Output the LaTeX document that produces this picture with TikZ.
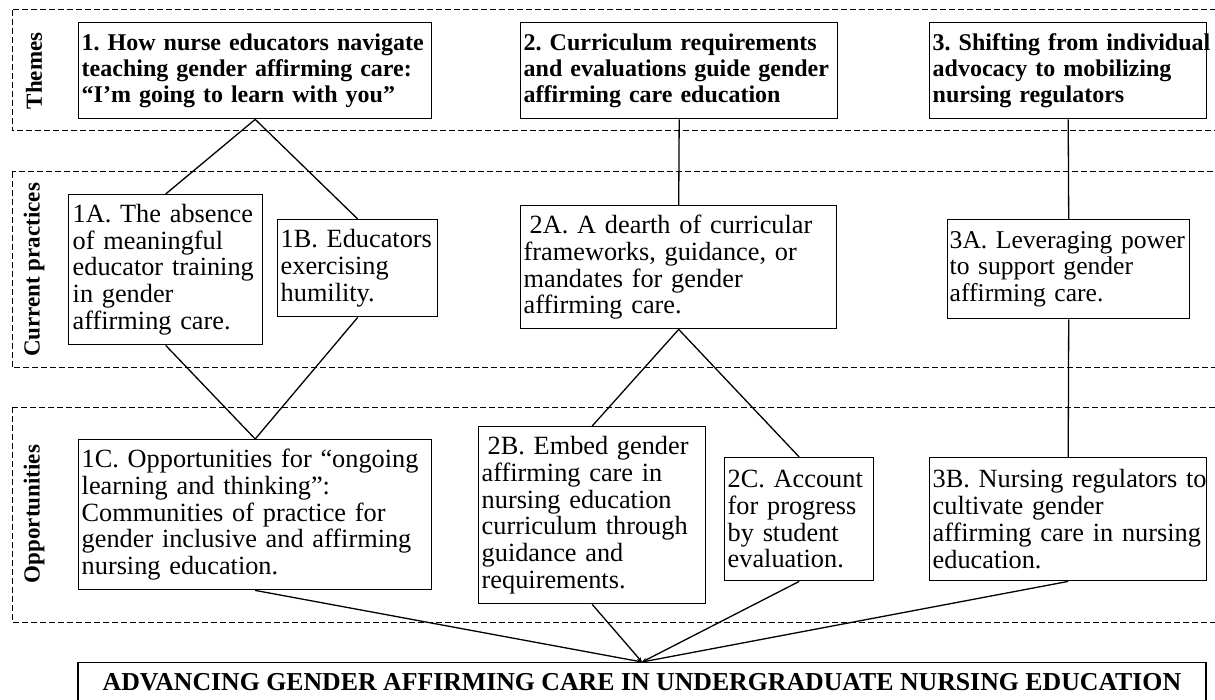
\documentclass[tikz,border=0pt]{standalone}
\usepackage{fontspec}
\setmainfont{Liberation Serif}
\usetikzlibrary{arrows.meta}
\newcommand{\keepline}[1]{\mbox{#1}}
\begin{document}
\frenchspacing
\begin{tikzpicture}[x=1pt,y=-1pt,
  band/.style={draw, line width=1pt, dash pattern=on 6pt off 3pt},
  bandlabel/.style={rotate=90, font=\bfseries\fontsize{23}{24}\selectfont, inner sep=0pt},
  box/.style={draw, line width=1.4pt, anchor=north west, align=left, inner sep=3pt,
              font=\fontsize{26.3}{26.8}\selectfont},
  theme/.style={box, font=\bfseries\fontsize{24}{26}\selectfont},
  link/.style={line width=1.3pt},
  conv/.style={line width=1.3pt, -{Stealth[length=5pt,width=4pt]}},
]
\useasboundingbox (0,0) rectangle (1215,700);

% bands
\draw[band] (12,10) rectangle (1222,131);
\draw[band] (12,172) rectangle (1222,368);
\draw[band] (12,407) rectangle (1222,622);
\node[bandlabel] (lblT) at (34,71) {Themes};
\node[bandlabel] (lblC) at (34,270) {Current practices};
\node[bandlabel] (lblO) at (34,514) {Opportunities};

% themes
\node[theme, text width=347pt, minimum height=96pt] (T1) at (78,22)
  {\keepline{1. How nurse educators navigate}\\\keepline{teaching gender affirming care:}\\\keepline{“I’m going to learn with you”}};
\node[theme, text width=311pt, minimum height=96pt] (T2) at (520,22)
  {\keepline{2. Curriculum requirements}\\\keepline{and evaluations guide gender}\\\keepline{affirming care education}};
\node[theme, text width=271pt, minimum height=96pt] (T3) at (929,22)
  {\keepline{3. Shifting from individual}\\\keepline{advocacy to mobilizing}\\\keepline{nursing regulators}};

% current practices
\node[box, text width=188pt, minimum height=150pt] (A1) at (68,194)
  {\keepline{\hspace*{1pt}1A. The absence}\\\keepline{\hspace*{1pt}of meaningful}\\\keepline{\hspace*{1pt}educator training}\\\keepline{\hspace*{1pt}in gender}\\\keepline{\hspace*{1pt}affirming care.}};
\node[box, text width=154pt, minimum height=97pt] (B1) at (277,219)
  {\keepline{1B. Educators}\\\keepline{exercising}\\\keepline{humility.}};
\node[box, text width=310pt, minimum height=123pt] (A2) at (520,205)
  {\keepline{\hspace*{6pt}2A. A dearth of curricular}\\\keepline{frameworks, guidance, or}\\\keepline{mandates for gender}\\\keepline{affirming care.}};
\node[box, text width=238pt, minimum height=99pt, inner sep=2pt,
      font=\fontsize{25.6}{26.8}\selectfont] (A3) at (947,219)
  {\keepline{3A. Leveraging power}\\\keepline{to support gender}\\\keepline{affirming care.}};

% opportunities
\node[box, text width=347pt, minimum height=150pt] (C1) at (78,439)
  {\keepline{1C. Opportunities for “ongoing}\\\keepline{learning and thinking”:}\\\keepline{Communities of practice for}\\\keepline{gender inclusive and affirming}\\\keepline{nursing education.}};
\node[box, text width=221pt, minimum height=177pt] (B2) at (478,426)
  {\keepline{\hspace*{6pt}2B. Embed gender}\\\keepline{affirming care in}\\\keepline{nursing education}\\\keepline{curriculum through}\\\keepline{guidance and}\\\keepline{requirements.}};
\node[box, text width=143pt, minimum height=123pt] (C2) at (724,457)
  {\keepline{2C. Account}\\\keepline{for progress}\\\keepline{by student}\\\keepline{evaluation.}};
\node[box, text width=271pt, minimum height=123pt] (B3) at (929,457)
  {\keepline{3B. Nursing regulators to}\\\keepline{cultivate gender}\\\keepline{affirming care in nursing}\\\keepline{education.}};

% outcome
\node[draw, line width=1.4pt, anchor=north, minimum width=1128pt, minimum height=40pt,
      inner sep=0pt, font=\bfseries\fontsize{25.8}{27}\selectfont] (Out) at (642,662)
  {\raisebox{2pt}{ADVANCING GENDER AFFIRMING CARE IN UNDERGRADUATE NURSING EDUCATION}};

% connectors
\draw[link] (T1.south) -- (A1.north);
\draw[link] (T1.south) -- (B1.north);
\draw[link] (A1.south) -- (C1.north);
\draw[link] (B1.south) -- (C1.north);
\draw[link] (T2.south) -- (A2.north);
\draw[link] (A2.south) -- (B2.north);
\draw[link] (A2.south) -- (C2.north);
\draw[link] (T3.south) -- (A3.north);
\draw[link] (A3.south) -- (B3.north);
\draw[conv] (C1.south) -- (Out.north);
\draw[conv] (B2.south) -- (Out.north);
\draw[conv] (C2.south) -- (Out.north);
\draw[conv] (B3.south) -- (Out.north);
\end{tikzpicture}
\end{document}
